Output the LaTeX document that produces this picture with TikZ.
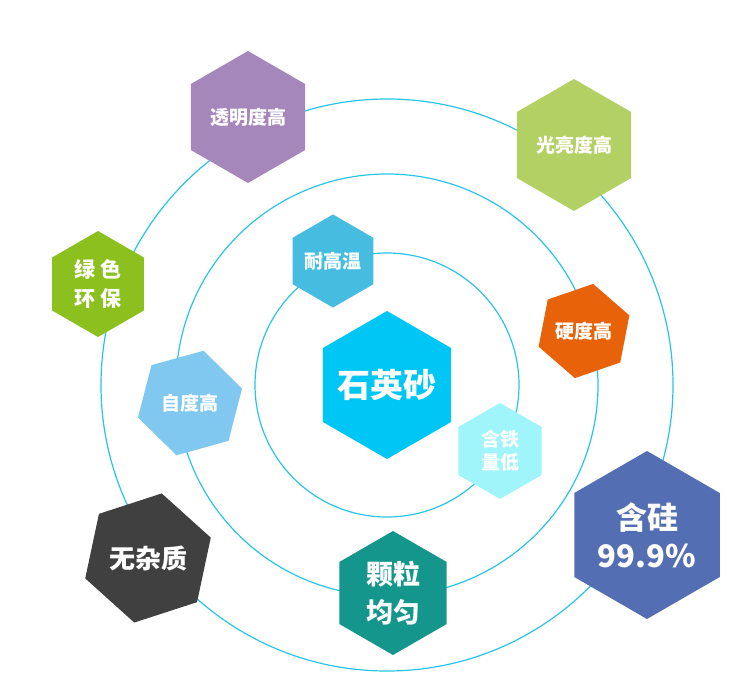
\documentclass[tikz,border=0pt]{standalone}
\usepackage{fontspec}
\newfontfamily\cjk{Noto Sans CJK SC}
\usetikzlibrary{
  shapes.geometric,
  calc
}
\definecolor{ringblue}{RGB}{40,196,232}
\definecolor{sandblue}{RGB}{0,198,245}
\definecolor{lilac}{RGB}{166,135,188}
\definecolor{lime}{RGB}{178,208,100}
\definecolor{leaf}{RGB}{140,192,30}
\definecolor{sky}{RGB}{70,188,224}
\definecolor{rust}{RGB}{232,98,10}
\definecolor{pale}{RGB}{128,200,240}
\definecolor{coal}{RGB}{64,64,64}
\definecolor{teal2}{RGB}{20,150,140}
\definecolor{navy2}{RGB}{84,110,180}
\definecolor{ice}{RGB}{160,245,250}
\tikzset{%
  hex/.style={regular polygon, regular polygon sides=6,
    shape border rotate=30, % pointy top
    inner sep=0pt, outer sep=0pt, text=white, align=center},
  ring/.style={draw=ringblue, line width=1.2pt},
  lblS/.style={font=\cjk\bfseries\fontsize{19}{23}\selectfont},
  lblM/.style={font=\cjk\bfseries\fontsize{26}{38}\selectfont},
  lblL/.style={font=\cjk\bfseries\fontsize{31}{38}\selectfont}
}

\begin{document}
\begin{tikzpicture}[x=1pt, y=-1pt]
  \useasboundingbox (0,0) rectangle (750,682);
  \coordinate (o) at (387,385);
  % the three rings
  \foreach \r in {132,211,286}
    \draw[ring] (o) circle (\r pt);
  % centre (text as label, so it does not grow the hexagon)
  \node[hex, fill=sandblue, minimum size=148pt,
    label={[text=white, font=\cjk\bfseries\fontsize{33}{38}\selectfont]center:石英砂}] (sand) at (o) {};
  % outer ring
  \node[hex, lblS, fill=lilac, minimum size=132pt] (clear) at (248,117) {透明度高};
  \node[hex, lblS, fill=lime, minimum size=132pt] (gloss) at (574,145) {光亮度高};
  \node[hex, fill=leaf, minimum size=106pt,
    font=\cjk\bfseries\fontsize{21}{29}\selectfont] (green) at (98,284) {绿\hspace{5pt}色\\环\hspace{5pt}保};
  \node[hex, lblM, fill=coal, minimum size=132pt, shape border rotate=18] (pure) at (148,558) {无杂质};
  \node[hex, lblL, fill=navy2, minimum size=168pt] (silicon) at (647,535) {含硅\\99.9\%};
  % middle ring
  \node[hex, lblS, fill=rust, minimum size=96pt, shape border rotate=19] (hard) at (584,331) {硬度高};
  \node[hex, lblS, fill=pale, minimum size=108pt, shape border rotate=15.5] (white) at (190,403) {自度高};
  \node[hex, fill=teal2, minimum size=124pt,
    font=\cjk\bfseries\fontsize{27}{38}\selectfont] (grain) at (393,593) {颗粒\\均匀};
  % inner ring
  \node[hex, lblS, fill=sky, minimum size=89pt] (heat) at (333,261) {耐高温};
  \node[hex, lblS, fill=ice, minimum size=96pt] (iron) at (500,451) {含铁\\量低};
\end{tikzpicture}
\end{document}
